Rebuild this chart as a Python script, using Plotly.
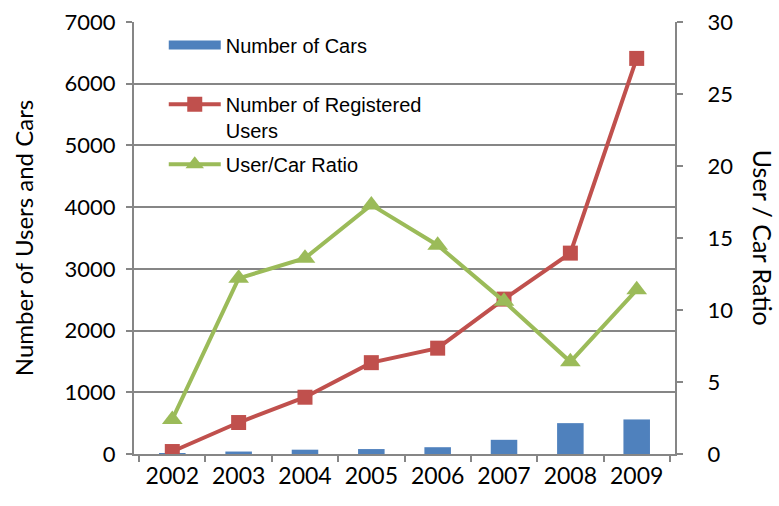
import plotly.graph_objects as go

years = ["2002", "2003", "2004", "2005", "2006", "2007", "2008", "2009"]
cars = [15, 40, 70, 80, 110, 230, 500, 560]
users = [40, 510, 920, 1480, 1715, 2510, 3255, 6410]
ratio = [2.4, 12.2, 13.6, 17.3, 14.5, 10.6, 6.4, 11.4]

left_ticks = [0, 1000, 2000, 3000, 4000, 5000, 6000, 7000]
right_ticks = [0, 5, 10, 15, 20, 25, 30]

BLUE = "#4F81BD"
RED = "#C0504D"
GREEN = "#9BBB59"
AXIS = "#868686"
TXT = "#000000"

fig = go.Figure()

# bars (legend entry drawn by a wide swatch below)
fig.add_trace(go.Bar(
    x=years, y=cars, name="Number of Cars",
    marker=dict(color=BLUE, line=dict(width=0)),
    showlegend=False,
))
# legend swatch for the bars: a thick blue strip
fig.add_trace(go.Scatter(
    x=[None], y=[None], name="Number of Cars",
    mode="lines", line=dict(color=BLUE, width=9),
    legend="legend",
))
fig.add_trace(go.Scatter(
    x=years, y=users, name="Number of Registered<br>Users",
    mode="lines+markers",
    line=dict(color=RED, width=4),
    marker=dict(symbol="square", size=15, color=RED),
    legend="legend2",
))
fig.add_trace(go.Scatter(
    x=years, y=ratio, name="User/Car Ratio", yaxis="y2",
    mode="lines+markers",
    line=dict(color=GREEN, width=4),
    marker=dict(symbol="triangle-up", size=18, color=GREEN),
    legend="legend3",
))

leg_common = dict(
    x=0.055, xanchor="left",
    bgcolor="rgba(255,255,255,0)",
    font=dict(family="Liberation Sans, Arial, sans-serif", size=20, color=TXT),
    itemwidth=52, valign="top",
)

fig.update_layout(
    width=779, height=506,
    margin=dict(l=134, r=104, t=22, b=52),
    paper_bgcolor="white", plot_bgcolor="white",
    font=dict(family="Lato, Carlito, sans-serif", size=22, color=TXT),
    bargap=0.6,
    showlegend=True,
    legend=dict(y=0.947, yanchor="middle", **leg_common),
    legend2=dict(y=0.855, yanchor="top", **leg_common),
    legend3=dict(y=0.671, yanchor="middle", **leg_common),
    xaxis=dict(
        type="category", automargin=False,
        showline=True, linecolor=AXIS, linewidth=2,
        ticks="outside", tickson="boundaries", ticklen=6, tickcolor=AXIS, tickwidth=2,
        showgrid=False, tickfont=dict(size=23),
    ),
    yaxis=dict(
        range=[0, 7000], tickvals=left_ticks, automargin=False,
        showline=True, linecolor=AXIS, linewidth=2,
        ticks="outside", ticklen=6, tickcolor=AXIS, tickwidth=2,
        ticklabelstandoff=6,
        showgrid=True, gridcolor=AXIS, gridwidth=1.5,
        zeroline=False, tickfont=dict(size=22),
        title=dict(text="Number of Users and Cars", font=dict(size=24), standoff=24),
    ),
    yaxis2=dict(
        range=[0, 30], tickvals=right_ticks, automargin=False,
        overlaying="y", side="right",
        showline=True, linecolor=AXIS, linewidth=2,
        ticks="outside", ticklen=6, tickcolor=AXIS, tickwidth=2,
        ticklabelstandoff=20,
        showgrid=False, zeroline=False, tickfont=dict(size=22),
    ),
    annotations=[dict(
        text="User / Car Ratio", textangle=90,
        xref="paper", yref="paper", x=1.163, y=0.5,
        xanchor="center", yanchor="middle", showarrow=False,
        font=dict(size=25, color=TXT),
    )],
)

fig.write_html("out.html")
